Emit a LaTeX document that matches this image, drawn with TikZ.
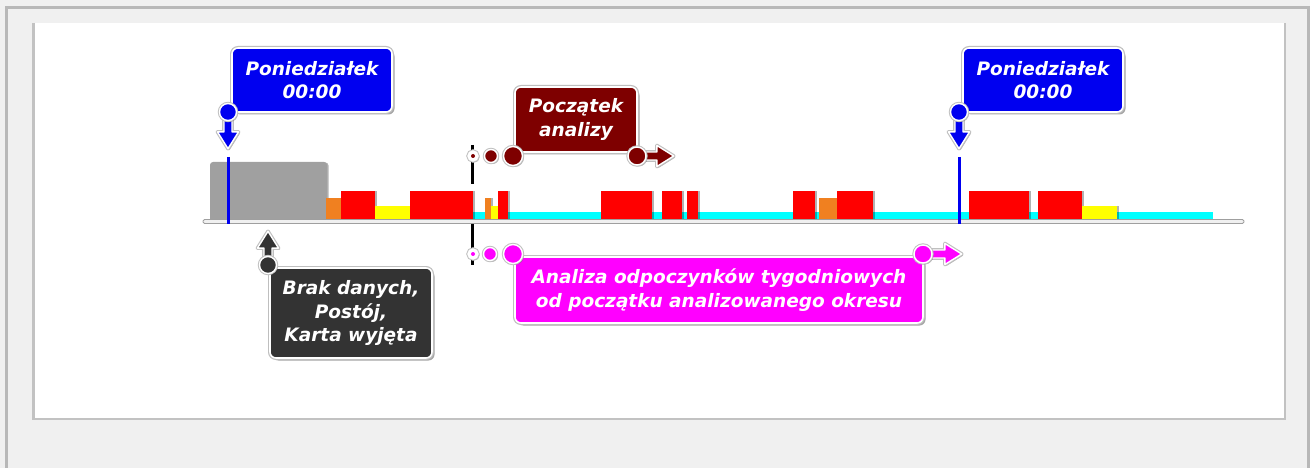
\documentclass[tikz,border=0pt]{standalone}
\usepackage{fontspec}
\setmainfont{DejaVu Sans}
\usetikzlibrary{shapes.arrows,shadows}
\definecolor{bgout}{HTML}{F0F0F0}
\definecolor{frameo}{HTML}{B8B8B8}
\definecolor{framei}{HTML}{C2C2C2}
\definecolor{mblue}{HTML}{0000F0}
\definecolor{mdred}{HTML}{7E0000}
\definecolor{mdark}{HTML}{333333}
\definecolor{mmag}{HTML}{FF00FF}
\definecolor{bred}{HTML}{FF0000}
\definecolor{borange}{HTML}{F08020}
\definecolor{byellow}{HTML}{FFFF00}
\definecolor{bcyan}{HTML}{00FFFF}
\definecolor{bgray}{HTML}{A0A0A0}
\tikzset{
  lbl/.style={rounded corners=6pt, draw=white, line width=1.6pt,
    drop shadow={shadow xshift=2.5pt, shadow yshift=-2.5pt, opacity=0.35, fill=black},
    preaction={draw=gray!50, line width=4pt},
    text=white, font=\fontsize{18.5}{23.5}\selectfont\bfseries\itshape,
    align=center, inner sep=0pt},
  arr/.style={single arrow, single arrow head extend=6.5pt, single arrow tip angle=64,
    inner sep=3.3pt, minimum width=0pt, draw=white, line width=1.4pt, line join=round,
    drop shadow={shadow xshift=1.5pt, shadow yshift=-1.5pt, opacity=0.3, fill=black},
    preaction={draw=gray!50, line width=3.6pt}, anchor=tail},
  dot/.style={circle, inner sep=0pt, draw=white, line width=1.4pt,
    drop shadow={shadow xshift=1.5pt, shadow yshift=-1.5pt, opacity=0.3, fill=black},
    preaction={draw=gray!50, line width=3.4pt}},
  pin/.style={circle, inner sep=0pt},
  bar/.style={drop shadow={shadow xshift=1.5pt, shadow yshift=-0.5pt, opacity=0.3, fill=black}},
  tline/.style={line width=3pt},
}
\begin{document}
\begin{tikzpicture}[x=1pt,y=-1pt]
\useasboundingbox (0,0) rectangle (1310,468);
% frames
\fill[bgout] (0,0) rectangle (1310,468);
\draw[frameo, line width=3pt] (6.5,470) -- (6.5,7.5) -- (1308.5,7.5) -- (1308.5,470);
\fill[white] (33,23) rectangle (1285,419);
\draw[framei, line width=2.5pt] (33.5,23) -- (33.5,419) -- (1285,419) -- (1285,23);
% cyan band
\fill[bcyan] (473,212) rectangle (1213,220);
% gray block
\fill[bgray, bar, rounded corners=3pt] (210,162) rectangle (327,223);
% bars
\fill[borange, bar] (326,198) rectangle (341,220);
\fill[bred, bar] (341,191) rectangle (375,220);
\fill[byellow, bar] (375,206) rectangle (410,220);
\fill[bred, bar] (410,191) rectangle (473,220);
\fill[borange, bar] (485,198) rectangle (491,220);
\fill[byellow, bar] (491,206) rectangle (498,220);
\fill[bred, bar] (498,191) rectangle (508,220);
\fill[bred, bar] (601,191) rectangle (652,220);
\fill[bred, bar] (662,191) rectangle (682,220);
\fill[bred, bar] (687,191) rectangle (698,220);
\fill[bred, bar] (793,191) rectangle (815,220);
\fill[borange, bar] (819,198) rectangle (837,220);
\fill[bred, bar] (837,191) rectangle (873,220);
\fill[bred, bar] (969,191) rectangle (1029,220);
\fill[bred, bar] (1038,191) rectangle (1082,220);
\fill[byellow, bar] (1082,206) rectangle (1117,220);
% baseline
\draw[draw=gray!75, fill=gray!12, line width=0.8pt, rounded corners=1.5pt] (203,219.5) rectangle (1244,223.5);
% monday lines
\draw[mblue, tline] (228,157) -- (228,223.5);
\draw[mblue, tline] (959,157) -- (959,223.5);
% analysis start line
\draw[black, line width=2.5pt] (472.5,145) -- (472.5,184);
\draw[black, line width=2.5pt] (472.5,224) -- (472.5,265);
% label boxes
\node[lbl, fill=mblue, minimum width=160pt, minimum height=64pt] (pon1) at (312,80) {Poniedziałek\\00:00};
\node[lbl, fill=mblue, minimum width=160pt, minimum height=64pt] (pon2) at (1043,80) {Poniedziałek\\00:00};
\node[lbl, fill=mdark, minimum width=162pt, minimum height=90pt] (brak) at (351,313) {Brak danych,\\Postój,\\Karta wyjęta};
\node[lbl, fill=mdred, minimum width=122pt, minimum height=65pt] (pocz) at (576,119.5) {Początek\\analizy};
\node[lbl, fill=mmag, minimum width=408pt, minimum height=66pt] (anal) at (719,290) {Analiza odpoczynków tygodniowych\\od początku analizowanego okresu};
% markers: Monday 1
\node[arr, fill=mblue, shape border rotate=270, minimum height=31pt] (a1) at (228,117) {};
\node[dot, fill=mblue, minimum size=17pt] (c1) at (228,112) {};
% Monday 2
\node[arr, fill=mblue, shape border rotate=270, minimum height=31pt] (a2) at (959,117) {};
\node[dot, fill=mblue, minimum size=17pt] (c2) at (959,112) {};
% Brak danych
\node[arr, fill=mdark, shape border rotate=90, minimum height=28pt] (a3) at (268,260) {};
\node[dot, fill=mdark, minimum size=17pt] (c3) at (268,265) {};
% Poczatek analizy
\node[dot, fill=white, minimum size=10pt] (p1) at (473,156) {};
\node[pin, fill=mdred, minimum size=4pt] (p1d) at (p1) {};
\node[dot, fill=mdred, minimum size=13pt] (p2) at (491,156) {};
\node[dot, fill=mdred, minimum size=19pt] (p3) at (513,156) {};
\node[arr, fill=mdred, shape border rotate=0, minimum height=33pt] (a4) at (640,156) {};
\node[dot, fill=mdred, minimum size=18pt] (p4) at (637,156) {};
% Analiza
\node[dot, fill=white, minimum size=10pt] (m1) at (473,254) {};
\node[pin, fill=mmag, minimum size=4pt] (m1d) at (m1) {};
\node[dot, fill=mmag, minimum size=13pt] (m2) at (490,254) {};
\node[dot, fill=mmag, minimum size=19pt] (m3) at (513,254) {};
\node[arr, fill=mmag, shape border rotate=0, minimum height=35pt] (a5) at (926,254) {};
\node[dot, fill=mmag, minimum size=18pt] (m4) at (923,254) {};
\end{tikzpicture}
\end{document}
